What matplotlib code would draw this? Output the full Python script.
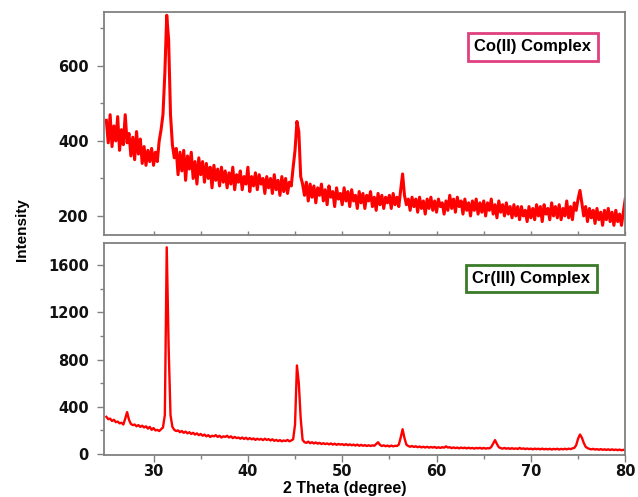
import numpy as np
import matplotlib.pyplot as plt

# Co(II) complex, 2theta 25..80 step 0.2
co_counts = [
    455, 395, 470, 385, 440, 400, 465, 375, 430, 390,
    470, 395, 420, 360, 410, 350, 425, 365, 405, 340,
    385, 335, 375, 345, 380, 335, 370, 345, 400, 430,
    470, 580, 735, 670, 470, 390, 355, 380, 310, 370,
    320, 375, 295, 360, 325, 370, 300, 345, 285, 355,
    310, 345, 290, 340, 300, 330, 275, 335, 295, 325,
    280, 330, 290, 320, 275, 315, 285, 330, 270, 310,
    290, 320, 270, 305, 285, 330, 265, 305, 280, 315,
    270, 310, 285, 300, 260, 305, 275, 300, 260, 310,
    270, 295, 255, 305, 265, 300, 260, 290, 280, 330,
    375, 452, 425, 305, 285, 255, 290, 240, 285, 250,
    280, 235, 275, 255, 285, 240, 270, 230, 280, 250,
    265, 225, 275, 245, 260, 230, 275, 240, 265, 225,
    270, 240, 255, 220, 265, 235, 260, 220, 255, 240,
    265, 225, 250, 215, 260, 230, 255, 220, 250, 235,
    255, 220, 260, 230, 250, 225, 270, 312, 255, 230,
    245, 215, 250, 225, 245, 210, 250, 220, 240, 205,
    245, 220, 250, 215, 240, 210, 245, 225, 235, 205,
    240, 215, 255, 220, 245, 210, 250, 225, 240, 205,
    245, 215, 235, 200, 240, 215, 245, 205, 235, 210,
    240, 200, 235, 215, 245, 205, 230, 195, 240, 210,
    230, 200, 235, 205, 225, 195, 230, 200, 225, 190,
    225, 200, 215, 185, 225, 195, 220, 190, 230, 200,
    225, 185, 230, 205, 220, 190, 235, 200, 225, 195,
    230, 190, 220, 200, 240, 195, 225, 190, 235, 215,
    245, 268, 235, 200, 225, 185, 220, 195, 215, 180,
    220, 190, 210, 175, 215, 190, 220, 185, 210, 175,
    215, 185, 205, 175, 210, 245,
]

# Cr(III) complex, same scan
cr_counts = [
    315, 295, 300, 280, 290, 270, 275, 260, 265, 250,
    300, 355, 290, 255, 245, 250, 235, 245, 230, 240,
    225, 235, 215, 230, 205, 220, 200, 205, 195, 210,
    225, 330, 1750, 910, 330, 230, 205, 195, 200, 185,
    195, 180, 190, 175, 185, 170, 180, 165, 175, 160,
    170, 155, 165, 150, 160, 145, 155, 150, 160, 145,
    155, 140, 150, 145, 155, 140, 150, 135, 145, 135,
    140, 130, 140, 128, 138, 125, 135, 125, 132, 120,
    130, 122, 128, 118, 130, 120, 126, 115, 125, 112,
    120, 110, 118, 108, 115, 110, 120, 108, 115, 125,
    250, 750, 600, 300, 120, 100, 95, 105, 92, 100,
    90, 98, 88, 95, 85, 92, 84, 90, 82, 90,
    80, 88, 78, 86, 80, 84, 76, 84, 75, 82,
    74, 80, 72, 80, 70, 78, 70, 76, 68, 75,
    68, 74, 70, 85, 100, 78, 68, 74, 66, 72,
    64, 72, 65, 70, 68, 80, 140, 210, 135, 80,
    68, 62, 68, 60, 66, 58, 64, 56, 62, 55,
    62, 54, 60, 55, 60, 52, 58, 52, 58, 54,
    65, 55, 58, 50, 56, 50, 55, 48, 55, 50,
    54, 48, 54, 48, 52, 46, 52, 48, 53, 46,
    52, 46, 50, 48, 60, 90, 118, 85, 58, 50,
    46, 52, 45, 50, 44, 50, 44, 48, 43, 52,
    44, 48, 42, 47, 42, 46, 40, 46, 42, 45,
    40, 46, 40, 44, 40, 45, 38, 44, 40, 45,
    38, 44, 40, 45, 40, 46, 42, 48, 52, 75,
    130, 165, 140, 95, 62, 50, 44, 40, 44, 38,
    42, 36, 42, 36, 40, 35, 40, 34, 40, 34,
    38, 33, 38, 32, 36, 34,
]

two_theta = 25 + 0.2 * np.arange(len(co_counts))

spine_col = '#808080'
tick_font = {'family': 'DejaVu Sans', 'weight': 'bold', 'size': 10.5}

fig = plt.figure(figsize=(6.38, 4.97), dpi=100)
ax1 = fig.add_axes([0.163, 0.527, 0.817, 0.449])
ax2 = fig.add_axes([0.163, 0.0845, 0.817, 0.4265])

ax1.plot(two_theta, co_counts, color='#ff0000', lw=2.2)
ax2.plot(two_theta, cr_counts, color='#ff0000', lw=1.7)

ax1.set_xlim(24.75, 80)
ax2.set_xlim(24.75, 80)
ax1.set_ylim(149, 744)
ax2.set_ylim(-8, 1786)

ax1.set_yticks([200, 400, 600])
ax1.set_yticks([300, 500, 700], minor=True)
ax2.set_yticks([0, 400, 800, 1200, 1600])
ax2.set_yticks([200, 600, 1000, 1400], minor=True)
for ax in (ax1, ax2):
    ax.set_xticks([30, 40, 50, 60, 70, 80])
    ax.set_xticks([35, 45, 55, 65, 75], minor=True)
    for s in ax.spines.values():
        s.set_color(spine_col)
        s.set_linewidth(1.3)
    ax.tick_params(which='both', color=spine_col, width=1)
    ax.tick_params(which='major', length=5)
    ax.tick_params(which='minor', length=3)
    for lab in ax.get_yticklabels() + ax.get_xticklabels():
        lab.set_fontproperties(tick_font)
    ax.tick_params(axis='y', pad=6, labelcolor='#111111')
    ax.tick_params(axis='x', pad=1.5, labelcolor='#111111')

ax1.tick_params(axis='x', which='both', direction='in', labelbottom=False, length=3)

box_font = {'family': 'Liberation Sans', 'weight': 'bold', 'size': 12}
ax1.text(0.823, 0.843, 'Co(II) Complex', transform=ax1.transAxes, ha='center', va='center',
         fontdict=box_font,
         bbox=dict(boxstyle='square,pad=0.38', fc='white', ec='#e0407f', lw=2))
ax2.text(0.82, 0.833, 'Cr(III) Complex', transform=ax2.transAxes, ha='center', va='center',
         fontdict=box_font,
         bbox=dict(boxstyle='square,pad=0.38', fc='white', ec='#3a7a28', lw=2))

fig.text(0.034, 0.539, 'Intensity', rotation=90, ha='center', va='center',
         family='Liberation Sans', weight='bold', size=11)
fig.text(0.541, 0.017, '2 Theta (degree)', ha='center', va='center',
         family='Liberation Sans', weight='bold', size=11.5)

fig.savefig('out.png', dpi=100)
